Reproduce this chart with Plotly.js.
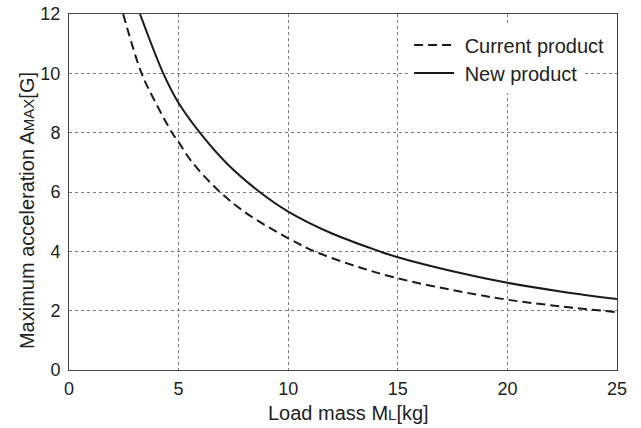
<!DOCTYPE html>
<html>
<head>
<meta charset="utf-8">
<script src="https://cdn.plot.ly/plotly-3.0.1.min.js"></script>
<style>html,body{margin:0;padding:0;background:#fff;}#chart{width:641px;height:428px;}</style>
</head>
<body>
<div id="chart"></div>
<script>
// Load mass [kg] and maximum acceleration [G]
const currentX = [2.47, 3.31, 3.89, 4.70, 5.0, 5.59, 6.8, 8.1, 10.0, 11.2, 13.0, 15.0, 17.6, 20.0, 22.5, 25.0];
const currentY = [12.0, 10.0, 9.10, 8.0, 7.68, 7.03, 6.06, 5.28, 4.44, 4.0, 3.52, 3.09, 2.68, 2.37, 2.14, 1.95];
const newX = [3.24, 4.30, 5.0, 5.97, 7.19, 8.70, 10.0, 12.0, 14.17, 15.0, 17.6, 20.0, 22.5, 25.0];
const newY = [12.0, 10.0, 9.0, 8.0, 6.97, 6.0, 5.34, 4.6, 4.0, 3.80, 3.31, 2.94, 2.64, 2.39];
const xTicks = [0, 5, 10, 15, 20, 25];
const yTicks = [0, 2, 4, 6, 8, 10, 12];
const seriesNames = ["Current product", "New product"];
const xTitle = "Load mass M<span style=\"font-size:15px\">L</span>[kg]";
const yTitle = "Maximum acceleration A<span style=\"font-size:15px\">MAX</span>[G]";

const FONT = "Liberation Sans, Arial, Helvetica, sans-serif";
const TXT = "#222";

const traces = [
  {x: currentX, y: currentY, name: "\u00a0" + seriesNames[0], mode: "lines", legend: "legend2",
   line: {color: "#1a1a1a", width: 2, dash: "9px,5px", shape: "spline", smoothing: 1}},
  {x: newX, y: newY, name: "\u00a0" + seriesNames[1], mode: "lines", legend: "legend",
   line: {color: "#1a1a1a", width: 2, shape: "spline", smoothing: 1}}
];

const axisCommon = {
  showline: true, mirror: true, linecolor: "#444", linewidth: 1,
  showgrid: true, gridcolor: "#7a7a7a", gridwidth: 1, griddash: "3px,3px",
  zeroline: false, ticks: "", tickfont: {family: FONT, size: 18, color: TXT}
};

const legendCommon = {
  xanchor: "left", yanchor: "middle", bgcolor: "#ffffff", borderwidth: 0,
  font: {family: FONT, size: 20, color: TXT}, itemwidth: 40, itemclick: false
};

const layout = {
  width: 641, height: 428,
  margin: {l: 69, r: 24, t: 14, b: 58},
  paper_bgcolor: "#fff", plot_bgcolor: "#fff",
  showlegend: true,
  xaxis: Object.assign({}, axisCommon, {
    range: [0, 25], tickvals: xTicks, ticktext: xTicks.map(String), ticklabelstandoff: 2
  }),
  yaxis: Object.assign({}, axisCommon, {
    range: [0, 12], tickvals: yTicks, ticktext: yTicks.map(String), ticklabelstandoff: 4
  }),
  legend2: Object.assign({}, legendCommon, {x: 0.6206, y: (370 - 45) / 356}),
  legend: Object.assign({}, legendCommon, {x: 0.6206, y: (370 - 73) / 356}),
  annotations: [
    {text: xTitle, xref: "paper", yref: "paper", x: (348.5 - 69) / 548.5, y: (370 - 413) / 356,
     xanchor: "center", yanchor: "middle", showarrow: false, font: {family: FONT, size: 20, color: TXT}},
    {text: yTitle, xref: "paper", yref: "paper", x: (27 - 69) / 548.5, y: (370 - 211) / 356,
     xanchor: "center", yanchor: "middle", textangle: -90, showarrow: false, font: {family: FONT, size: 20, color: TXT}}
  ]
};

Plotly.newPlot("chart", traces, layout, {displayModeBar: false, staticPlot: true});
</script>
</body>
</html>
